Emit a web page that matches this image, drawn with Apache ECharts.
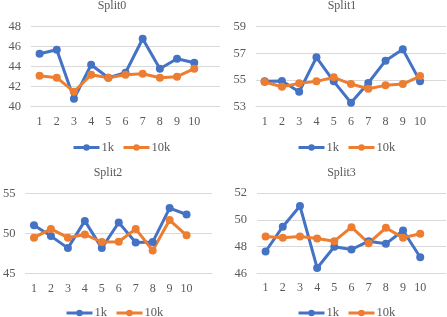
<!DOCTYPE html>
<html><head><meta charset="utf-8">
<script src="https://cdn.jsdelivr.net/npm/echarts@6/dist/echarts.min.js"></script>
<style>html,body{margin:0;padding:0;background:#fff}#c{width:447px;height:317px}</style>
</head><body><div id="c"></div>
<script>
const categories = ['1','2','3','4','5','6','7','8','9','10',''];
const titles = ['Split0','Split1','Split2','Split3'];
const s0_1k  = [45.3,45.7,40.8,44.2,42.9,43.4,46.8,43.8,44.8,44.4];
const s0_10k = [43.1,42.9,41.5,43.2,42.9,43.2,43.3,42.9,43.0,43.8];
const s1_1k  = [54.9,54.93,54.12,56.7,54.9,53.3,54.78,56.45,57.3,54.9];
const s1_10k = [54.85,54.5,54.75,54.9,55.2,54.7,54.35,54.6,54.7,55.3];
const s2_1k  = [51.05,49.7,48.2,51.6,48.2,51.4,48.9,48.95,53.2,52.4];
const s2_10k = [49.5,50.6,49.5,49.9,48.95,49.0,50.6,47.9,51.7,49.8];
const s3_1k  = [47.63,49.48,51.03,46.4,47.98,47.78,48.4,48.2,49.2,47.2];
const s3_10k = [48.75,48.65,48.75,48.6,48.4,49.45,48.25,49.4,48.65,48.95];
const yMin = [40,53,45,46], yMax = [48,59,55,52], yInt = [2,2,5,2];
const data1k = [s0_1k,s1_1k,s2_1k,s3_1k];
const data10k = [s0_10k,s1_10k,s2_10k,s3_10k];

const grids = [
  {left:31, top:26.7, width:189, height:80},
  {left:256, top:26.7, width:190, height:80},
  {left:23, top:193.7, width:189, height:80},
  {left:257, top:193, width:189, height:80.3}
];
const titleCenters = [[112,0],[342,0],[108,167],[341.5,167]];
const legendPos = [[67,136],[292,136],[60,301.5],[292,301.5]];
const font = 'Liberation Serif';
const grey = '#595959';
const blue = '#4472C4', orange = '#ED7D31';

const option = {
  animation:false,
  textStyle:{fontFamily:font},
  title: titles.map((t,i)=>({text:t, left:titleCenters[i][0], top:titleCenters[i][1], textAlign:'center', padding:0,
     textStyle:{fontFamily:font, fontSize:12, fontWeight:'normal', color:grey}})),
  grid: grids,
  legend: [0,1,2,3].map(i=>({data:['1k','10k'], left:legendPos[i][0], top:legendPos[i][1],
     itemWidth:26, itemHeight:8, itemGap:8, lineStyle:{width:3},
     textStyle:{fontFamily:font, fontSize:12.5, color:grey, padding:[0,0,0,-3]}})),
  xAxis: [0,1,2,3].map(i=>({type:'category', gridIndex:i, data:categories, boundaryGap:true,
     axisLine:{show:true, lineStyle:{color:'#D9D9D9'}}, axisTick:{show:false},
     axisLabel:{fontFamily:font, fontSize:12, color:grey, margin:9, interval:0}})),
  yAxis: [0,1,2,3].map(i=>({type:'value', gridIndex:i, min:yMin[i], max:yMax[i], interval:yInt[i],
     axisLine:{show:false}, axisTick:{show:false},
     splitLine:{lineStyle:{color:'#D9D9D9', width:1}},
     axisLabel:{fontFamily:font, fontSize:12.5, color:grey, margin:10}})),
  series: []
};
for (let i=0;i<4;i++){
  option.series.push({name:'1k', type:'line', xAxisIndex:i, yAxisIndex:i, data:data1k[i],
    symbol:'circle', symbolSize:8, color:blue, lineStyle:{width:3, color:blue}, itemStyle:{color:blue}});
  option.series.push({name:'10k', type:'line', xAxisIndex:i, yAxisIndex:i, data:data10k[i],
    symbol:'circle', symbolSize:8, color:orange, lineStyle:{width:3, color:orange}, itemStyle:{color:orange}});
}
echarts.init(document.getElementById('c')).setOption(option);
</script></body></html>
